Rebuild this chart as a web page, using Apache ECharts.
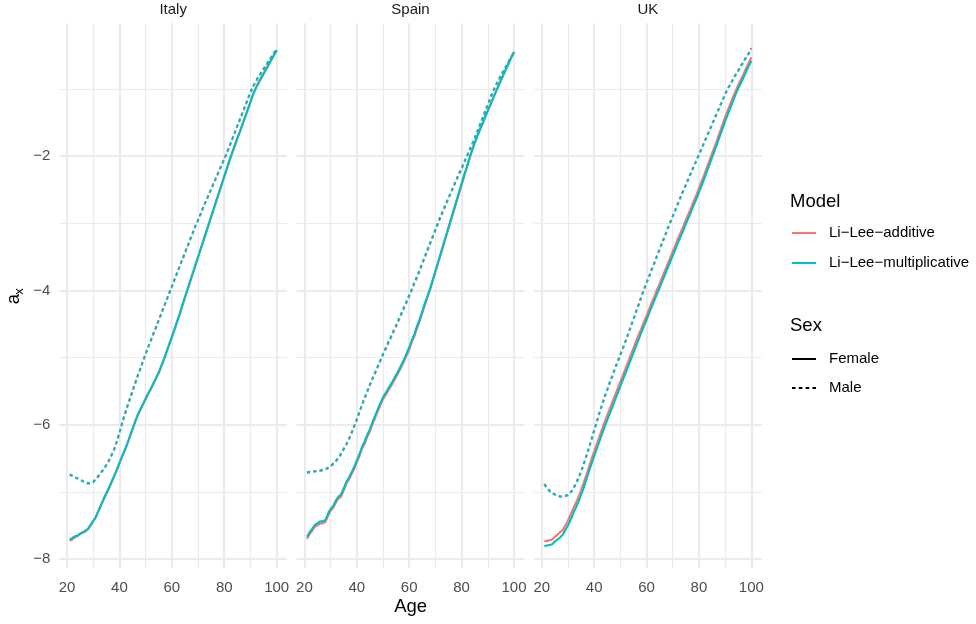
<!DOCTYPE html>
<html><head><meta charset="utf-8">
<script src="https://cdn.jsdelivr.net/npm/echarts@6/dist/echarts.min.js"></script>
<style>html,body{margin:0;padding:0;background:#fff}#c{width:976px;height:624px}</style>
</head><body><div id="c"></div>
<script>
// ---------- data ----------
const countries = ['Italy', 'Spain', 'UK'];
const models = ['Li\u2212Lee\u2212additive', 'Li\u2212Lee\u2212multiplicative'];
const sexes = ['Female', 'Male'];
const xTicks = [20, 40, 60, 80, 100];
const yTicks = [-8, -6, -4, -2];
const ages = [21,22,23,24,25,26,27,28,29,30,31,32,33,34,35,36,37,38,39,40,
  41,42,43,44,45,46,47,48,49,50,51,52,53,54,55,56,57,58,59,60,
  61,62,63,64,65,66,67,68,69,70,71,72,73,74,75,76,77,78,79,80,
  81,82,83,84,85,86,87,88,89,90,91,92,93,94,95,96,97,98,99,100];

const italyFemaleAdd = [-7.73,-7.71,-7.68,-7.66,-7.63,-7.61,-7.59,-7.56,-7.50,-7.44,
  -7.38,-7.29,-7.20,-7.11,-7.03,-6.95,-6.86,-6.77,-6.68,-6.58,
  -6.48,-6.39,-6.29,-6.18,-6.07,-5.96,-5.86,-5.78,-5.70,-5.62,
  -5.54,-5.47,-5.39,-5.31,-5.23,-5.13,-5.03,-4.92,-4.81,-4.70,
  -4.59,-4.47,-4.36,-4.23,-4.11,-3.99,-3.87,-3.75,-3.63,-3.51,
  -3.39,-3.27,-3.15,-3.03,-2.91,-2.79,-2.67,-2.55,-2.43,-2.31,
  -2.19,-2.07,-1.96,-1.85,-1.74,-1.64,-1.53,-1.42,-1.31,-1.20,
  -1.08,-0.99,-0.92,-0.85,-0.78,-0.71,-0.64,-0.57,-0.50,-0.43];
const italyFemaleMul = [-7.71,-7.69,-7.66,-7.65,-7.62,-7.60,-7.58,-7.55,-7.49,-7.43,
  -7.37,-7.28,-7.19,-7.10,-7.02,-6.94,-6.85,-6.76,-6.67,-6.57,
  -6.47,-6.38,-6.28,-6.17,-6.06,-5.95,-5.85,-5.77,-5.69,-5.61,
  -5.53,-5.46,-5.38,-5.30,-5.22,-5.12,-5.02,-4.91,-4.80,-4.69,
  -4.58,-4.46,-4.35,-4.22,-4.10,-3.98,-3.86,-3.74,-3.62,-3.50,
  -3.38,-3.26,-3.14,-3.02,-2.90,-2.78,-2.66,-2.54,-2.42,-2.30,
  -2.18,-2.06,-1.95,-1.84,-1.73,-1.63,-1.52,-1.41,-1.30,-1.19,
  -1.08,-0.99,-0.91,-0.84,-0.77,-0.70,-0.63,-0.56,-0.49,-0.42];
const italyMaleAdd = [-6.75,-6.76,-6.79,-6.80,-6.83,-6.84,-6.86,-6.88,-6.87,-6.86,
  -6.81,-6.77,-6.71,-6.67,-6.60,-6.54,-6.45,-6.37,-6.25,-6.13,
  -5.98,-5.86,-5.73,-5.62,-5.50,-5.39,-5.27,-5.17,-5.05,-4.95,
  -4.84,-4.75,-4.64,-4.55,-4.44,-4.35,-4.24,-4.15,-4.04,-3.95,
  -3.84,-3.75,-3.64,-3.55,-3.44,-3.35,-3.24,-3.15,-3.04,-2.96,
  -2.86,-2.77,-2.67,-2.59,-2.49,-2.41,-2.31,-2.23,-2.13,-2.05,
  -1.95,-1.86,-1.75,-1.66,-1.55,-1.46,-1.35,-1.26,-1.15,-1.06,
  -0.96,-0.90,-0.82,-0.77,-0.70,-0.65,-0.58,-0.53,-0.46,-0.42];
const italyMaleMul = [-6.74,-6.76,-6.78,-6.80,-6.82,-6.84,-6.86,-6.87,-6.87,-6.85,
  -6.81,-6.76,-6.71,-6.66,-6.60,-6.53,-6.45,-6.36,-6.25,-6.12,
  -5.98,-5.85,-5.73,-5.61,-5.50,-5.38,-5.27,-5.16,-5.05,-4.94,
  -4.84,-4.74,-4.64,-4.54,-4.44,-4.34,-4.24,-4.14,-4.04,-3.94,
  -3.84,-3.74,-3.64,-3.54,-3.44,-3.34,-3.24,-3.14,-3.04,-2.95,
  -2.86,-2.76,-2.67,-2.58,-2.49,-2.40,-2.31,-2.22,-2.13,-2.04,
  -1.95,-1.85,-1.75,-1.65,-1.55,-1.45,-1.35,-1.25,-1.15,-1.05,
  -0.96,-0.89,-0.82,-0.76,-0.70,-0.64,-0.58,-0.52,-0.46,-0.41];

const spainFemaleAdd = [-7.70,-7.63,-7.58,-7.52,-7.50,-7.47,-7.47,-7.45,-7.36,-7.28,
  -7.24,-7.16,-7.10,-7.07,-6.98,-6.88,-6.82,-6.74,-6.66,-6.56,
  -6.47,-6.36,-6.28,-6.18,-6.10,-5.99,-5.90,-5.80,-5.71,-5.62,
  -5.56,-5.49,-5.43,-5.36,-5.29,-5.22,-5.14,-5.06,-4.97,-4.88,
  -4.77,-4.68,-4.56,-4.46,-4.34,-4.22,-4.10,-3.99,-3.86,-3.73,
  -3.60,-3.47,-3.34,-3.21,-3.08,-2.95,-2.82,-2.69,-2.56,-2.43,
  -2.30,-2.17,-2.04,-1.92,-1.81,-1.71,-1.61,-1.52,-1.42,-1.33,
  -1.24,-1.14,-1.05,-0.96,-0.87,-0.79,-0.70,-0.62,-0.53,-0.45];
const spainFemaleMul = [-7.67,-7.60,-7.55,-7.49,-7.47,-7.44,-7.44,-7.42,-7.33,-7.25,
  -7.21,-7.13,-7.07,-7.04,-6.95,-6.85,-6.79,-6.71,-6.63,-6.53,
  -6.44,-6.33,-6.25,-6.15,-6.07,-5.96,-5.87,-5.77,-5.68,-5.59,
  -5.53,-5.46,-5.40,-5.33,-5.26,-5.19,-5.11,-5.03,-4.94,-4.85,
  -4.74,-4.65,-4.53,-4.43,-4.31,-4.19,-4.08,-3.97,-3.84,-3.71,
  -3.58,-3.45,-3.32,-3.19,-3.06,-2.93,-2.80,-2.67,-2.54,-2.41,
  -2.28,-2.16,-2.03,-1.91,-1.80,-1.70,-1.60,-1.51,-1.41,-1.32,
  -1.23,-1.14,-1.05,-0.96,-0.87,-0.78,-0.70,-0.61,-0.53,-0.45];
const spainMaleAdd = [-6.72,-6.71,-6.70,-6.70,-6.69,-6.69,-6.68,-6.67,-6.65,-6.62,
  -6.59,-6.55,-6.50,-6.44,-6.37,-6.30,-6.22,-6.13,-6.03,-5.93,
  -5.82,-5.71,-5.61,-5.51,-5.41,-5.32,-5.23,-5.14,-5.05,-4.96,
  -4.88,-4.79,-4.71,-4.62,-4.54,-4.45,-4.36,-4.27,-4.18,-4.09,
  -4.00,-3.90,-3.81,-3.71,-3.61,-3.51,-3.41,-3.31,-3.21,-3.11,
  -3.01,-2.91,-2.82,-2.73,-2.63,-2.54,-2.45,-2.36,-2.27,-2.19,
  -2.10,-2.01,-1.92,-1.83,-1.74,-1.64,-1.54,-1.44,-1.34,-1.24,
  -1.14,-1.04,-0.96,-0.88,-0.80,-0.73,-0.66,-0.59,-0.52,-0.45];
const spainMaleMul = [-6.71,-6.70,-6.70,-6.69,-6.69,-6.68,-6.67,-6.66,-6.64,-6.61,
  -6.58,-6.54,-6.49,-6.43,-6.36,-6.29,-6.21,-6.12,-6.02,-5.92,
  -5.81,-5.70,-5.60,-5.50,-5.40,-5.31,-5.22,-5.13,-5.04,-4.95,
  -4.86,-4.77,-4.69,-4.60,-4.52,-4.43,-4.34,-4.25,-4.16,-4.07,
  -3.98,-3.88,-3.79,-3.69,-3.59,-3.49,-3.39,-3.29,-3.19,-3.09,
  -2.99,-2.89,-2.80,-2.71,-2.62,-2.53,-2.44,-2.35,-2.26,-2.18,
  -2.09,-2.00,-1.91,-1.82,-1.73,-1.63,-1.53,-1.43,-1.33,-1.23,
  -1.13,-1.03,-0.95,-0.87,-0.80,-0.73,-0.66,-0.59,-0.52,-0.45];

const ukFemaleAdd = [-7.74,-7.73,-7.72,-7.71,-7.67,-7.64,-7.60,-7.57,-7.50,-7.43,
  -7.34,-7.25,-7.17,-7.08,-6.98,-6.87,-6.75,-6.63,-6.51,-6.40,
  -6.29,-6.18,-6.07,-5.96,-5.86,-5.76,-5.66,-5.56,-5.46,-5.36,
  -5.26,-5.16,-5.06,-4.96,-4.86,-4.76,-4.66,-4.57,-4.47,-4.38,
  -4.28,-4.18,-4.09,-3.99,-3.90,-3.80,-3.71,-3.61,-3.52,-3.42,
  -3.33,-3.23,-3.14,-3.05,-2.95,-2.86,-2.77,-2.67,-2.58,-2.48,
  -2.38,-2.28,-2.17,-2.07,-1.96,-1.86,-1.75,-1.64,-1.53,-1.42,
  -1.32,-1.22,-1.12,-1.03,-0.94,-0.86,-0.78,-0.69,-0.61,-0.53];
const ukFemaleMul = [-7.81,-7.80,-7.79,-7.78,-7.74,-7.71,-7.68,-7.64,-7.57,-7.50,
  -7.42,-7.32,-7.24,-7.15,-7.05,-6.94,-6.82,-6.70,-6.58,-6.47,
  -6.36,-6.25,-6.14,-6.03,-5.93,-5.83,-5.73,-5.63,-5.53,-5.43,
  -5.33,-5.23,-5.13,-5.03,-4.93,-4.83,-4.73,-4.63,-4.53,-4.44,
  -4.34,-4.24,-4.15,-4.05,-3.96,-3.86,-3.77,-3.67,-3.58,-3.48,
  -3.39,-3.29,-3.20,-3.11,-3.01,-2.92,-2.83,-2.73,-2.64,-2.54,
  -2.44,-2.34,-2.23,-2.13,-2.02,-1.92,-1.81,-1.70,-1.59,-1.48,
  -1.38,-1.28,-1.18,-1.08,-0.99,-0.91,-0.83,-0.74,-0.66,-0.58];
const ukMaleAdd = [-6.88,-6.94,-6.98,-7.02,-7.04,-7.05,-7.07,-7.06,-7.06,-7.04,
  -7.01,-6.95,-6.88,-6.79,-6.70,-6.58,-6.47,-6.34,-6.22,-6.08,
  -5.96,-5.82,-5.71,-5.58,-5.48,-5.36,-5.27,-5.15,-5.06,-4.95,
  -4.86,-4.75,-4.65,-4.53,-4.43,-4.31,-4.21,-4.09,-3.99,-3.88,
  -3.79,-3.68,-3.59,-3.48,-3.39,-3.28,-3.19,-3.08,-2.99,-2.89,
  -2.80,-2.70,-2.61,-2.51,-2.43,-2.33,-2.25,-2.15,-2.07,-1.97,
  -1.89,-1.79,-1.71,-1.61,-1.53,-1.43,-1.35,-1.25,-1.17,-1.07,
  -1.00,-0.92,-0.86,-0.78,-0.73,-0.65,-0.60,-0.52,-0.47,-0.39];
const ukMaleMul = [-6.89,-6.94,-6.99,-7.02,-7.04,-7.06,-7.07,-7.07,-7.06,-7.05,
  -7.01,-6.96,-6.88,-6.80,-6.70,-6.59,-6.47,-6.35,-6.22,-6.09,
  -5.96,-5.83,-5.71,-5.59,-5.48,-5.37,-5.27,-5.16,-5.06,-4.96,
  -4.86,-4.76,-4.65,-4.54,-4.43,-4.32,-4.21,-4.10,-3.99,-3.89,
  -3.79,-3.69,-3.59,-3.49,-3.39,-3.29,-3.19,-3.09,-2.99,-2.90,
  -2.80,-2.71,-2.61,-2.52,-2.43,-2.34,-2.25,-2.16,-2.07,-1.98,
  -1.89,-1.80,-1.71,-1.62,-1.53,-1.44,-1.35,-1.26,-1.17,-1.08,
  -1.00,-0.93,-0.86,-0.79,-0.73,-0.66,-0.60,-0.53,-0.47,-0.40];

// ---------- layout / style ----------
const FONT = '"Liberation Sans", Arial, Helvetica, sans-serif';
const RED = '#F8766D', CYAN = '#00BFC4';
const GRID_C = '#EBEBEB';
const panelLeft = [59.3, 296.65, 534.0], panelW = 227.7, panelTop = 23.3, panelH = 544.7;
const xMin = 17.05, xMax = 103.95, yMin = -8.134, yMax = -0.022;
const pxX = (p, v) => panelLeft[p] + (v - xMin) / (xMax - xMin) * panelW;
const pxY = v => panelTop + (yMax - v) / (yMax - yMin) * panelH;
const minus = v => String(v).replace('-', '\u2212');

const panelData = [
  [italyFemaleAdd, italyMaleAdd, italyFemaleMul, italyMaleMul],
  [spainFemaleAdd, spainMaleAdd, spainFemaleMul, spainMaleMul],
  [ukFemaleAdd, ukMaleAdd, ukFemaleMul, ukMaleMul]
];
const seriesDefs = [
  {model: 0, sex: 0, color: RED}, {model: 0, sex: 1, color: RED},
  {model: 1, sex: 0, color: CYAN}, {model: 1, sex: 1, color: CYAN}
];

const grid = [], xAxis = [], yAxis = [], series = [], graphic = [];
const hiddenAxis = (gi) => ({gridIndex: gi, type: 'value', show: false, min: 0, max: 1});

countries.forEach((c, p) => {
  const gMain = grid.length;
  grid.push({left: panelLeft[p], top: panelTop, width: panelW, height: panelH, containLabel: false, outerBoundsMode: 'none'});
  xAxis.push({gridIndex: gMain, type: 'value', show: false, min: xMin, max: xMax});
  yAxis.push({gridIndex: gMain, type: 'value', show: false, min: yMin, max: yMax});
  const axMain = xAxis.length - 1;

  const gH = grid.length;
  grid.push({left: panelLeft[p], width: panelW, top: pxY(0), height: pxY(-8) - pxY(0), containLabel: false, outerBoundsMode: 'none'});
  xAxis.push(hiddenAxis(gH));
  yAxis.push({
    gridIndex: gH, type: 'value', min: yTicks[0], max: 0, interval: yTicks[1] - yTicks[0],
    axisLine: {show: false}, axisTick: {show: false},
    axisLabel: {show: p === 0, margin: 9, fontSize: 15, color: '#4D4D4D', fontFamily: FONT,
      formatter: v => yTicks.includes(v) ? minus(v) : ''},
    splitLine: {show: true, showMaxLine: false, showMinLine: true, lineStyle: {color: GRID_C, width: 2.2}},
    minorTick: {show: false, splitNumber: 2},
    minorSplitLine: {show: true, lineStyle: {color: GRID_C, width: 1.2}}
  });

  const gV = grid.length;
  grid.push({left: pxX(p, xTicks[0]), width: pxX(p, xTicks[xTicks.length - 1]) - pxX(p, xTicks[0]),
    top: panelTop, height: panelH, containLabel: false, outerBoundsMode: 'none'});
  xAxis.push({
    gridIndex: gV, type: 'value', min: xTicks[0], max: xTicks[xTicks.length - 1], interval: xTicks[1] - xTicks[0],
    position: 'bottom',
    axisLine: {show: false}, axisTick: {show: false},
    axisLabel: {show: true, margin: 12, fontSize: 15, color: '#4D4D4D', fontFamily: FONT},
    splitLine: {show: true, lineStyle: {color: GRID_C, width: 2.2}},
    minorTick: {show: false, splitNumber: 2},
    minorSplitLine: {show: true, lineStyle: {color: GRID_C, width: 1.2}}
  });
  yAxis.push(hiddenAxis(gV));

  seriesDefs.forEach((d, k) => {
    const vals = panelData[p][k];
    series.push({
      type: 'line', name: models[d.model], xAxisIndex: axMain, yAxisIndex: axMain,
      data: ages.map((a, i) => [a, vals[i]]),
      showSymbol: false, symbol: 'none', silent: true, z: 3,
      color: d.color,
      lineStyle: {color: d.color, width: 2.1, type: d.sex === 0 ? 'solid' : [3.2, 3.2], cap: 'butt'}
    });
  });

  graphic.push({type: 'text', x: panelLeft[p] + panelW / 2, y: 10,
    style: {text: c, fill: '#1A1A1A', fontSize: 15, fontFamily: FONT,
      align: 'center', verticalAlign: 'middle', textAlign: 'center', textVerticalAlign: 'middle'}});
});

series.push({type: 'line', name: sexes[0], data: [], xAxisIndex: 0, yAxisIndex: 0, color: '#000',
  lineStyle: {color: '#000', width: 2}});
series.push({type: 'line', name: sexes[1], data: [], xAxisIndex: 0, yAxisIndex: 0, color: '#000',
  lineStyle: {color: '#000', width: 2, type: [3, 3]}});

const txt = (text, x, y, size, extra) => Object.assign({type: 'text', x, y,
  style: {text, fill: '#000', fontSize: size, fontFamily: FONT, align: 'center', verticalAlign: 'middle',
    textAlign: 'center', textVerticalAlign: 'middle'}}, extra || {});
graphic.push(txt('Age', 410.7, 606.5, 18.5));
graphic.push(txt('a', 13.8, 299, 18.5, {rotation: Math.PI / 2}));
graphic.push(txt('x', 19.6, 291.5, 13, {rotation: Math.PI / 2}));
graphic.push({type: 'text', x: 790, y: 202, style: {text: 'Model', fill: '#000', fontSize: 18.5, fontFamily: FONT,
  align: 'left', verticalAlign: 'middle', textAlign: 'left', textVerticalAlign: 'middle'}});
graphic.push({type: 'text', x: 790, y: 326, style: {text: 'Sex', fill: '#000', fontSize: 18.5, fontFamily: FONT,
  align: 'left', verticalAlign: 'middle', textAlign: 'left', textVerticalAlign: 'middle'}});

const legendText = {fontSize: 15, fontFamily: FONT, color: '#000', lineHeight: 20, padding: [0, 0, 0, 8]};
const option = {
  animation: false,
  backgroundColor: '#ffffff',
  grid, xAxis, yAxis, series, graphic,
  legend: [
    {data: models.map(m => ({name: m, icon: 'rect'})), orient: 'vertical', left: 792, top: 223, padding: 0,
      itemWidth: 24, itemHeight: 2, itemGap: 10, selectedMode: false, textStyle: legendText},
    {data: [{name: sexes[0], icon: 'rect'},
            {name: sexes[1], icon: 'path://M0,0h3.6v2h-3.6z M6.8,0h3.6v2h-3.6z M13.6,0h3.6v2h-3.6z M20.4,0h3.6v2h-3.6z'}],
      orient: 'vertical', left: 792, top: 349, padding: 0,
      itemWidth: 24, itemHeight: 2, itemGap: 9, selectedMode: false, textStyle: legendText}
  ]
};
const chart = echarts.init(document.getElementById('c'), null, {renderer: 'canvas'});
chart.setOption(option);
</script></body></html>
